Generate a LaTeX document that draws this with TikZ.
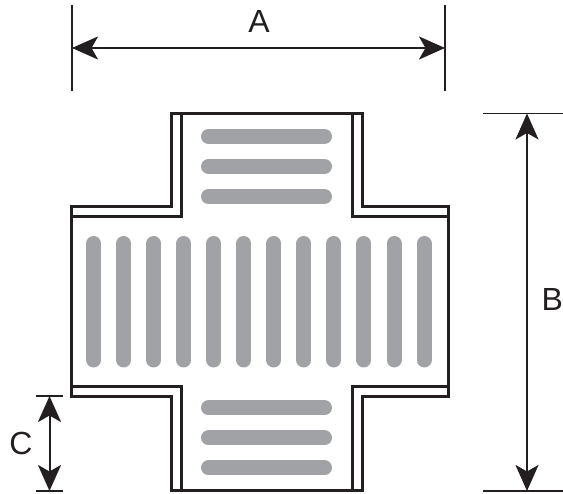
\documentclass[tikz,border=0pt]{standalone}
\usepackage{fontspec}
\setmainfont{Liberation Sans}
\usepackage{xcolor}
\usetikzlibrary{arrows.meta}
\definecolor{inkdark}{RGB}{35, 31, 32}
\definecolor{bargray}{RGB}{161, 162, 166}

\begin{document}
\begin{tikzpicture}[
    x=1pt,
    y=-1pt,
    outline/.style={draw=inkdark, line width=3pt, miter limit=10},
    slot/.style={draw=bargray, line width=15pt, line cap=round},
    tick/.style={draw=inkdark, line width=1.4pt},
    dimen/.style={draw=inkdark, line width=2pt, {Stealth[length=26pt,width=23pt,inset=6.5pt]}-{Stealth[length=26pt,width=23pt,inset=6.5pt]}},
    dimlabel/.style={inner sep=0pt, text=inkdark, font=\fontsize{32}{32}\selectfont}
]
\useasboundingbox (0,0) rectangle (563,494);

% Slots
\foreach \y in {136.5,166.5,196.5,408,438,468}
    \draw[slot] (208.5,\y) -- (324.5,\y);
\foreach \i in {0,...,11}
    \draw[slot] (93.7+30.03*\i,243.5) -- (93.7+30.03*\i,360);

% Outer outline
\draw[outline] (71,207) -- (171.5,207) -- (171.5,113.5) -- (362.5,113.5) -- (362.5,207)
    -- (448,207) -- (448,397) -- (362.5,397) -- (362.5,491) -- (171.5,491) -- (171.5,397)
    -- (71,397) -- cycle;

% Inner outline
\draw[outline] (71,217) -- (181.5,217) -- (181.5,113.5);
\draw[outline] (352.5,113.5) -- (352.5,217) -- (448,217);
\draw[outline] (448,387) -- (352.5,387) -- (352.5,491);
\draw[outline] (181.5,491) -- (181.5,387) -- (71,387);

% Dimension A
\coordinate (a_left) at (72,48);
\coordinate (a_right) at (445,48);
\draw[tick] (72,5) -- (72,91);
\draw[tick] (445,5) -- (445,91);
\draw[dimen] (a_left) -- (a_right);
\node[dimlabel] (label_a) at (259,21.5) {A};

% Dimension B
\coordinate (b_top) at (527,113.5);
\coordinate (b_bottom) at (527,491);
\draw[tick] (483,113.5) -- (563,113.5);
\draw[tick] (483,491) -- (563,491);
\draw[dimen] (b_top) -- (b_bottom);
\node[dimlabel] (label_b) at (552.2,299.5) {B};

% Dimension C
\coordinate (c_top) at (49.5,396);
\coordinate (c_bottom) at (49.5,491);
\draw[tick] (36,396) -- (63,396);
\draw[tick] (36,491) -- (63,491);
\draw[dimen] (c_top) -- (c_bottom);
\node[dimlabel] (label_c) at (21,443.5) {C};

\end{tikzpicture}
\end{document}
